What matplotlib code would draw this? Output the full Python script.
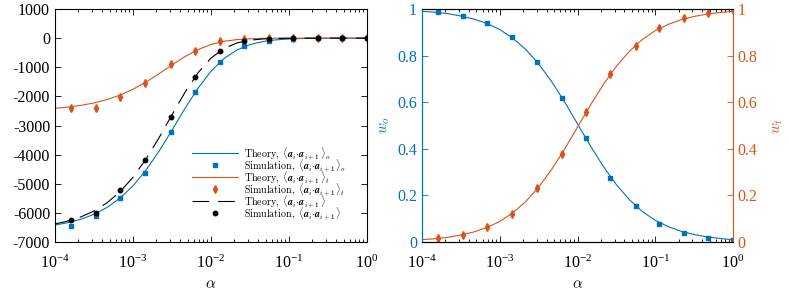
import numpy as np
import matplotlib
matplotlib.use('Agg')
import matplotlib.pyplot as plt
from matplotlib.ticker import LogLocator, NullFormatter, FixedLocator, FixedFormatter
from matplotlib.mathtext import MathTextParser
from matplotlib.font_manager import FontProperties

plt.rcParams['font.family'] = ['Liberation Serif', 'DejaVu Serif']
plt.rcParams['mathtext.fontset'] = 'stix'
plt.rcParams['axes.unicode_minus'] = False
plt.rcParams['lines.scale_dashes'] = False

BLUE = '#0072BD'
ORANGE = '#D95319'

# ---------------- data ----------------
alpha_theory = [1e-4, 1.47e-4, 2.15e-4, 3.16e-4, 4.64e-4, 6.81e-4, 1e-3, 1.47e-3,
                2.15e-3, 3.16e-3, 4.64e-3, 6.81e-3, 1e-2, 1.47e-2, 2.15e-2, 3.16e-2,
                4.64e-2, 6.81e-2, 0.1, 0.147, 0.215, 0.316, 0.464, 0.681, 1.0]
theory_o = [-6418, -6335, -6218, -6050, -5815, -5495, -5071, -4530, -3888, -3161,
            -2414, -1720, -1138, -700, -407, -222, -116, -59, -29, -14, -7, -3, -1, -1, 0]
theory_t = [-2409, -2367, -2309, -2226, -2111, -1957, -1756, -1507, -1224, -921,
            -634, -394, -220, -109, -50, -21, -8, -3, -1, 0, 0, 0, 0, 0, 0]
theory_all = [-6380, -6279, -6138, -5936, -5655, -5276, -4778, -4152, -3428, -2635,
              -1861, -1192, -686, -353, -165, -70, -28, -10, -4, -1, 0, 0, 0, 0, 0]
theory_wo = [0.990, 0.986, 0.980, 0.970, 0.957, 0.938, 0.912, 0.875, 0.827, 0.765,
             0.689, 0.602, 0.507, 0.412, 0.324, 0.246, 0.182, 0.131, 0.093, 0.066,
             0.046, 0.032, 0.022, 0.015, 0.010]
theory_wt = [0.010, 0.014, 0.020, 0.030, 0.043, 0.062, 0.088, 0.125, 0.173, 0.235,
             0.311, 0.398, 0.493, 0.588, 0.676, 0.754, 0.818, 0.869, 0.907, 0.934,
             0.954, 0.968, 0.978, 0.985, 0.990]

alpha_sim = [1.62e-4, 3.37e-4, 6.85e-4, 1.43e-3, 3.04e-3, 6.26e-3, 1.29e-2, 2.64e-2,
             5.61e-2, 0.113, 0.234, 0.481, 1.0]
sim_o = [-6443, -6110, -5504, -4620, -3233, -1833, -825, -275, -100, -30, -7, -2, 0]
sim_t = [-2395, -2395, -2030, -1548, -905, -447, -113, -30, -5, 0, 0, 0, 0]
sim_all = [-6237, -5996, -5216, -4173, -2694, -1318, -457, -100, -20, 0, 0, 0, 0]
sim_wo = [0.987, 0.968, 0.940, 0.878, 0.773, 0.620, 0.448, 0.273, 0.155, 0.079, 0.037, 0.016, 0.007]
sim_wt = [0.018, 0.030, 0.065, 0.122, 0.232, 0.377, 0.557, 0.723, 0.842, 0.918, 0.960, 0.981, 0.994]

left_yticks = [1000, 0, -1000, -2000, -3000, -4000, -5000, -6000, -7000]
right_yticks = [0, 0.2, 0.4, 0.6, 0.8, 1]
right_yticklabels = ['0', '0.2', '0.4', '0.6', '0.8', '1']

# ------------- legend labels -------------
try:
    MathTextParser('agg').parse(r'$\mathbfit{a}$', dpi=100,
                                prop=FontProperties(math_fontfamily='cm'))
    use_bfit = True
except Exception:
    use_bfit = False

def label(kind, sub):
    vec = r'\mathbfit{a}' if use_bfit else r'\mathbf{a}'
    return r'$\mathrm{%s,}\ \langle %s_i{\cdot}%s_{i+1}\,\rangle%s$' % (kind, vec, vec, sub)

# ------------- figure -------------
fig = plt.figure(figsize=(7.89, 2.96), dpi=100)
ax1 = fig.add_axes([55/789, 1-242/296, 312/789, 233/296])
ax2 = fig.add_axes([422/789, 1-242/296, 311/789, 233/296])

lw = 0.8
h1, = ax1.plot(alpha_theory, theory_o, color=BLUE, lw=lw)
h2, = ax1.plot(alpha_sim, sim_o, 's', color=BLUE, ms=3.5, mec=BLUE)
h3, = ax1.plot(alpha_theory, theory_t, color=ORANGE, lw=lw)
h4, = ax1.plot(alpha_sim, sim_t, 'd', color=ORANGE, ms=4.2, mec=ORANGE)
h5, = ax1.plot(alpha_theory, theory_all, color='black', lw=lw, dashes=(12, 6.5))
h6, = ax1.plot(alpha_sim, sim_all, 'o', color='black', ms=3.2)

ax1.set_xscale('log')
ax1.set_xlim(1e-4, 1)
ax1.set_ylim(-7000, 1000)
ax1.yaxis.set_major_locator(FixedLocator(left_yticks))
ax1.yaxis.set_major_formatter(FixedFormatter([str(v) for v in left_yticks]))
ax1.set_xlabel(r'$\alpha$', fontsize=11, math_fontfamily='cm', labelpad=5)

leg = ax1.legend([h1, h2, h3, h4, h5, h6],
                 [label('Theory', '_o'), label('Simulation', '_o'),
                  label('Theory', '_t'), label('Simulation', '_t'),
                  label('Theory', ''), label('Simulation', '')],
                 loc='lower right', bbox_to_anchor=(0.955, 0.06), frameon=False,
                 fontsize=7.2, handlelength=4.6, handletextpad=0.6, labelspacing=-0.38,
                 borderpad=0.2)
for t in leg.get_texts():
    t.set_math_fontfamily('cm')

# right panel
ax2.plot(alpha_theory, theory_wo, color=BLUE, lw=lw)
ax2.plot(alpha_sim, sim_wo, 's', color=BLUE, ms=3.5, mec=BLUE)
ax3 = ax2.twinx()
ax3.plot(alpha_theory, theory_wt, color=ORANGE, lw=lw)
ax3.plot(alpha_sim, sim_wt, 'd', color=ORANGE, ms=4.2, mec=ORANGE)
for a in (ax2, ax3):
    a.set_xscale('log')
    a.set_xlim(1e-4, 1)
    a.set_ylim(0, 1)
    a.yaxis.set_major_locator(FixedLocator(right_yticks))
    a.yaxis.set_major_formatter(FixedFormatter(right_yticklabels))
ax2.set_xlabel(r'$\alpha$', fontsize=11, math_fontfamily='cm', labelpad=5)
ax2.set_ylabel(r'$w_o$', fontsize=11, color=BLUE, math_fontfamily='cm', labelpad=4)
ax3.set_ylabel(r'$w_t$', fontsize=11, color=ORANGE, math_fontfamily='cm', labelpad=10)

# styling
for a in (ax1, ax2, ax3):
    a.xaxis.set_major_locator(LogLocator(base=10, numticks=10))
    a.xaxis.set_minor_locator(LogLocator(base=10, subs=np.arange(2, 10), numticks=10))
    a.xaxis.set_minor_formatter(NullFormatter())
    a.tick_params(which='both', direction='in', labelsize=11.5, width=0.6)
    a.tick_params(which='major', length=4)
    a.tick_params(which='minor', length=2)
    a.tick_params(axis='x', which='major', pad=9)
    for s in a.spines.values():
        s.set_linewidth(0.8)

ax1.tick_params(which='both', top=True, right=True)
ax2.tick_params(which='both', top=True, right=False)
ax3.tick_params(which='both', top=False, bottom=False, labelbottom=False)
ax2.tick_params(axis='y', colors=BLUE)
ax3.tick_params(axis='y', colors=ORANGE)
ax2.spines['left'].set_color(BLUE)
ax3.spines['left'].set_color(BLUE)
ax3.spines['right'].set_color(ORANGE)
ax2.spines['right'].set_visible(False)

fig.savefig('out.png', dpi=100)
